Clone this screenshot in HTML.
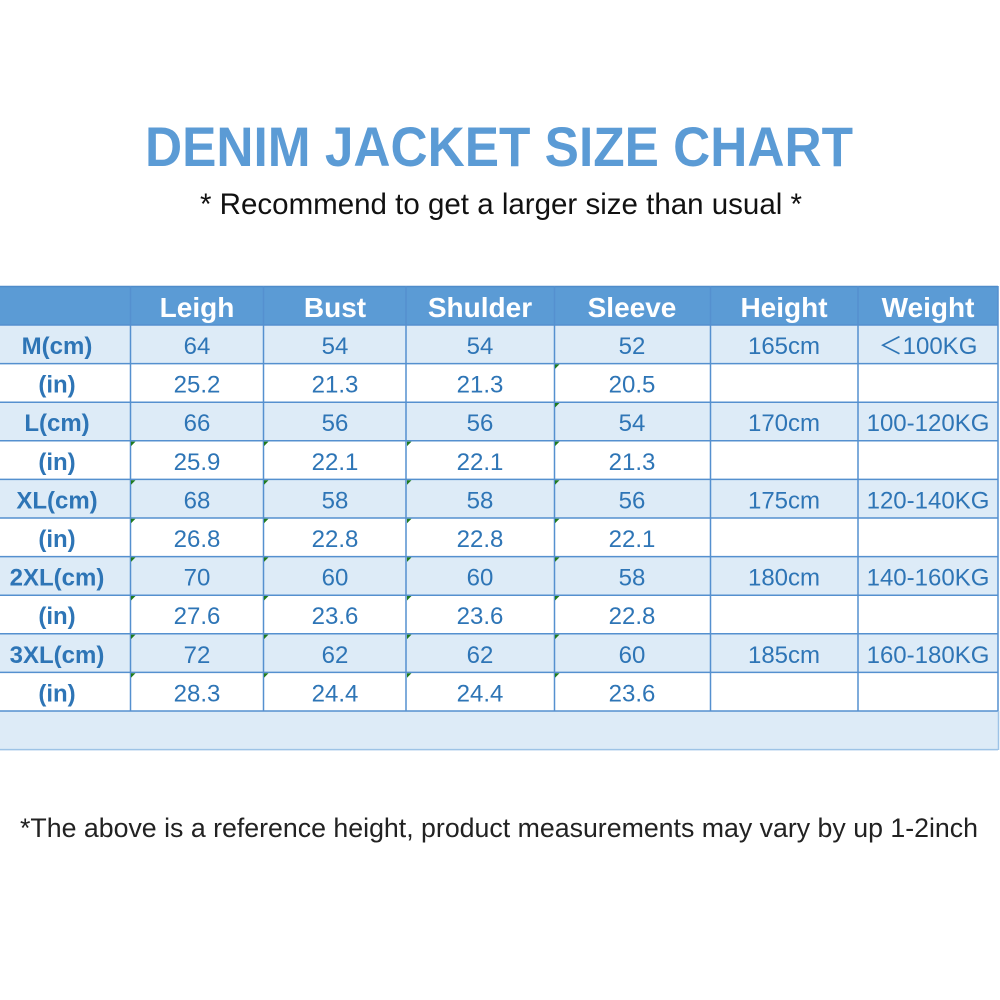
<!DOCTYPE html>
<html><head><meta charset="utf-8">
<style>
html,body{margin:0;padding:0;background:#fff;width:1000px;height:1000px;overflow:hidden}
svg{display:block}
.t{font-family:"Liberation Sans","Noto Sans CJK SC",sans-serif}
</style></head>
<body>
<svg width="1000" height="1000" viewBox="0 0 1000 1000" xmlns="http://www.w3.org/2000/svg">
<rect x="0" y="0" width="1000" height="1000" fill="#fff"/>
<!-- Title -->
<text class="t" x="145" y="166" font-size="56" font-weight="bold" fill="#5b9bd5" textLength="708" lengthAdjust="spacingAndGlyphs">DENIM JACKET SIZE CHART</text>
<text class="t" x="200" y="214" font-size="30" fill="#111" textLength="602" lengthAdjust="spacingAndGlyphs">* Recommend to get a larger size than usual *</text>

<!-- Table backgrounds -->
<rect x="0" y="286" width="998" height="39" fill="#5b9bd5"/>
<g fill="#ddebf7">
<rect x="0" y="325" width="998" height="38.6"/>
<rect x="0" y="402.2" width="998" height="38.6"/>
<rect x="0" y="479.4" width="998" height="38.6"/>
<rect x="0" y="556.6" width="998" height="38.6"/>
<rect x="0" y="633.8" width="998" height="38.6"/>
<rect x="0" y="711" width="998" height="38.6"/>
</g>
<!-- Grid lines -->
<g stroke="#5590cf" stroke-width="1.5">
<line x1="0" y1="286.5" x2="998" y2="286.5" stroke="#4f8cca"/>
<line x1="0" y1="325" x2="998" y2="325"/>
<line x1="0" y1="363.6" x2="998" y2="363.6"/>
<line x1="0" y1="402.2" x2="998" y2="402.2"/>
<line x1="0" y1="440.8" x2="998" y2="440.8"/>
<line x1="0" y1="479.4" x2="998" y2="479.4"/>
<line x1="0" y1="518" x2="998" y2="518"/>
<line x1="0" y1="556.6" x2="998" y2="556.6"/>
<line x1="0" y1="595.2" x2="998" y2="595.2"/>
<line x1="0" y1="633.8" x2="998" y2="633.8"/>
<line x1="0" y1="672.4" x2="998" y2="672.4"/>
<line x1="0" y1="711" x2="998" y2="711"/>
<line x1="130.5" y1="286" x2="130.5" y2="711"/>
<line x1="263.5" y1="286" x2="263.5" y2="711"/>
<line x1="406" y1="286" x2="406" y2="711"/>
<line x1="554.5" y1="286" x2="554.5" y2="711"/>
<line x1="710.5" y1="286" x2="710.5" y2="711"/>
<line x1="858" y1="286" x2="858" y2="711"/>
<line x1="998" y1="286" x2="998" y2="711"/>
</g>
<g stroke="#9dc3e6" stroke-width="1.5">
<line x1="0" y1="749.6" x2="998" y2="749.6"/>
<line x1="998.5" y1="711" x2="998.5" y2="750"/>
</g>

<!-- Green triangles -->
<g fill="#1f7a1f">
<polygon points="555,364.4 559.5,364.4 555,368.9"/>
<polygon points="555,403 559.5,403 555,407.5"/>
<polygon points="131,441.6 135.5,441.6 131,446.1"/><polygon points="264,441.6 268.5,441.6 264,446.1"/><polygon points="407,441.6 411.5,441.6 407,446.1"/><polygon points="555,441.6 559.5,441.6 555,446.1"/>
<polygon points="131,480.2 135.5,480.2 131,484.7"/><polygon points="264,480.2 268.5,480.2 264,484.7"/><polygon points="407,480.2 411.5,480.2 407,484.7"/><polygon points="555,480.2 559.5,480.2 555,484.7"/>
<polygon points="131,518.8 135.5,518.8 131,523.3"/><polygon points="264,518.8 268.5,518.8 264,523.3"/><polygon points="407,518.8 411.5,518.8 407,523.3"/><polygon points="555,518.8 559.5,518.8 555,523.3"/>
<polygon points="131,557.4 135.5,557.4 131,561.9"/><polygon points="264,557.4 268.5,557.4 264,561.9"/><polygon points="407,557.4 411.5,557.4 407,561.9"/><polygon points="555,557.4 559.5,557.4 555,561.9"/>
<polygon points="131,596 135.5,596 131,600.5"/><polygon points="264,596 268.5,596 264,600.5"/><polygon points="407,596 411.5,596 407,600.5"/><polygon points="555,596 559.5,596 555,600.5"/>
<polygon points="131,634.6 135.5,634.6 131,639.1"/><polygon points="264,634.6 268.5,634.6 264,639.1"/><polygon points="407,634.6 411.5,634.6 407,639.1"/><polygon points="555,634.6 559.5,634.6 555,639.1"/>
<polygon points="131,673.2 135.5,673.2 131,677.7"/><polygon points="264,673.2 268.5,673.2 264,677.7"/><polygon points="407,673.2 411.5,673.2 407,677.7"/><polygon points="555,673.2 559.5,673.2 555,677.7"/>
</g>

<!-- Header text -->
<g class="t" font-size="28" font-weight="bold" fill="#fff" text-anchor="middle">
<text x="197" y="317">Leigh</text>
<text x="335" y="317">Bust</text>
<text x="480" y="317">Shulder</text>
<text x="632" y="317">Sleeve</text>
<text x="784" y="317">Height</text>
<text x="928" y="317">Weight</text>
</g>

<!-- Row labels -->
<g class="t" font-size="24" font-weight="bold" fill="#2e75b6" text-anchor="middle">
<text x="57" y="354">M(cm)</text>
<text x="57" y="392.6">(in)</text>
<text x="57" y="431.2">L(cm)</text>
<text x="57" y="469.8">(in)</text>
<text x="57" y="508.4">XL(cm)</text>
<text x="57" y="547">(in)</text>
<text x="57" y="585.6">2XL(cm)</text>
<text x="57" y="624.2">(in)</text>
<text x="57" y="662.8">3XL(cm)</text>
<text x="57" y="701.4">(in)</text>
</g>

<!-- Data -->
<g class="t" font-size="24" fill="#2e75b6" text-anchor="middle">
<text x="197" y="354">64</text><text x="335" y="354">54</text><text x="480" y="354">54</text><text x="632" y="354">52</text><text x="784" y="354">165cm</text><text x="928" y="354">＜100KG</text>
<text x="197" y="392.6">25.2</text><text x="335" y="392.6">21.3</text><text x="480" y="392.6">21.3</text><text x="632" y="392.6">20.5</text>
<text x="197" y="431.2">66</text><text x="335" y="431.2">56</text><text x="480" y="431.2">56</text><text x="632" y="431.2">54</text><text x="784" y="431.2">170cm</text><text x="928" y="431.2">100-120KG</text>
<text x="197" y="469.8">25.9</text><text x="335" y="469.8">22.1</text><text x="480" y="469.8">22.1</text><text x="632" y="469.8">21.3</text>
<text x="197" y="508.4">68</text><text x="335" y="508.4">58</text><text x="480" y="508.4">58</text><text x="632" y="508.4">56</text><text x="784" y="508.4">175cm</text><text x="928" y="508.4">120-140KG</text>
<text x="197" y="547">26.8</text><text x="335" y="547">22.8</text><text x="480" y="547">22.8</text><text x="632" y="547">22.1</text>
<text x="197" y="585.6">70</text><text x="335" y="585.6">60</text><text x="480" y="585.6">60</text><text x="632" y="585.6">58</text><text x="784" y="585.6">180cm</text><text x="928" y="585.6">140-160KG</text>
<text x="197" y="624.2">27.6</text><text x="335" y="624.2">23.6</text><text x="480" y="624.2">23.6</text><text x="632" y="624.2">22.8</text>
<text x="197" y="662.8">72</text><text x="335" y="662.8">62</text><text x="480" y="662.8">62</text><text x="632" y="662.8">60</text><text x="784" y="662.8">185cm</text><text x="928" y="662.8">160-180KG</text>
<text x="197" y="701.4">28.3</text><text x="335" y="701.4">24.4</text><text x="480" y="701.4">24.4</text><text x="632" y="701.4">23.6</text>
</g>

<!-- Footer -->
<text class="t" x="20" y="837" font-size="27" fill="#222" textLength="958" lengthAdjust="spacingAndGlyphs">*The above is a reference height, product measurements may vary by up 1-2inch</text>
</svg>
</body></html>
